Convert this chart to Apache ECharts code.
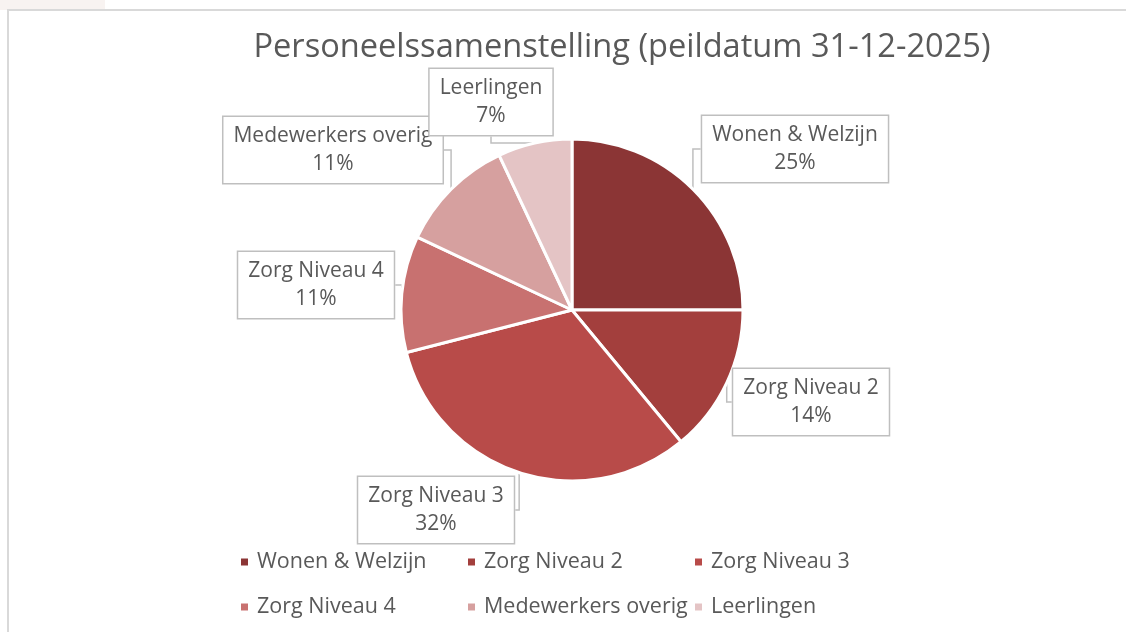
<!DOCTYPE html>
<html>
<head>
<meta charset="utf-8">
<script src="https://cdn.jsdelivr.net/npm/echarts@6/dist/echarts.min.js"></script>
<style>
html,body{margin:0;padding:0;background:#fff;}
#frame{position:absolute;left:0;top:0;width:1126px;height:632px;background:#fff;}
#deco{position:absolute;left:0;top:0;width:105px;height:10px;background:#f8f3f1;}
#chart{position:absolute;left:7px;top:9px;width:1119px;height:623px;box-sizing:border-box;border-left:2px solid #d9d9d9;border-top:2px solid #d9d9d9;background:#fff;}
</style>
</head>
<body>
<div id="frame"><div id="deco"></div><div id="chart"></div></div>
<script>
const titleText = 'Personeelssamenstelling (peildatum 31-12-2025)';
const categories = ['Wonen & Welzijn', 'Zorg Niveau 2', 'Zorg Niveau 3', 'Zorg Niveau 4', 'Medewerkers overig', 'Leerlingen'];
const values = [25, 14, 32, 11, 11, 7];
const colors = ['#8b3535', '#a33f3d', '#b84b49', '#c87170', '#d6a09f', '#e4c4c5'];
// label box centres (relative to chart div)
const labelCenters = [[786, 138], [802, 391], [427, 499], [307, 274], [324, 139], [482, 91]];

const chart = echarts.init(document.getElementById('chart'));
const font = '"Open Sans", "Noto Sans", sans-serif';
chart.setOption({
  animation: false,
  color: colors,
  title: {
    text: titleText,
    left: 608, top: 15, textAlign: 'center',
    textStyle: { fontFamily: font, fontSize: 32.6, fontWeight: 'normal', color: '#595959' }
  },
  legend: {
    left: 225, top: 526, width: 700,
    itemWidth: 9, itemHeight: 9, itemGap: 5,
    icon: 'rect',
    textStyle: { fontFamily: font, fontSize: 21.5, color: '#595959', width: 204, lineHeight: 40, padding: [0, 0, 0, 3] },
    data: categories
  },
  series: [{
    type: 'pie',
    center: [563, 299],
    radius: 171,
    startAngle: 90,
    clockwise: true,
    itemStyle: { borderColor: '#fff', borderWidth: 3 },
    label: {
      show: true,
      formatter: '{b}\n{d}%',
      fontFamily: font, fontSize: 21, color: '#595959',
      lineHeight: 28,
      backgroundColor: '#fff', borderColor: '#bfbfbf', borderWidth: 1.5,
      padding: [5, 10, 5, 10], align: 'center'
    },
    labelLine: { show: true, length: 15, length2: 10, lineStyle: { color: '#bfbfbf', width: 1.5 } },
    labelLayout: function (p) {
      const c = labelCenters[p.dataIndex];
      return { x: c[0], y: c[1], align: 'center', verticalAlign: 'middle' };
    },
    data: categories.map((n, i) => ({ name: n, value: values[i] }))
  }]
});
</script>
</body>
</html>
